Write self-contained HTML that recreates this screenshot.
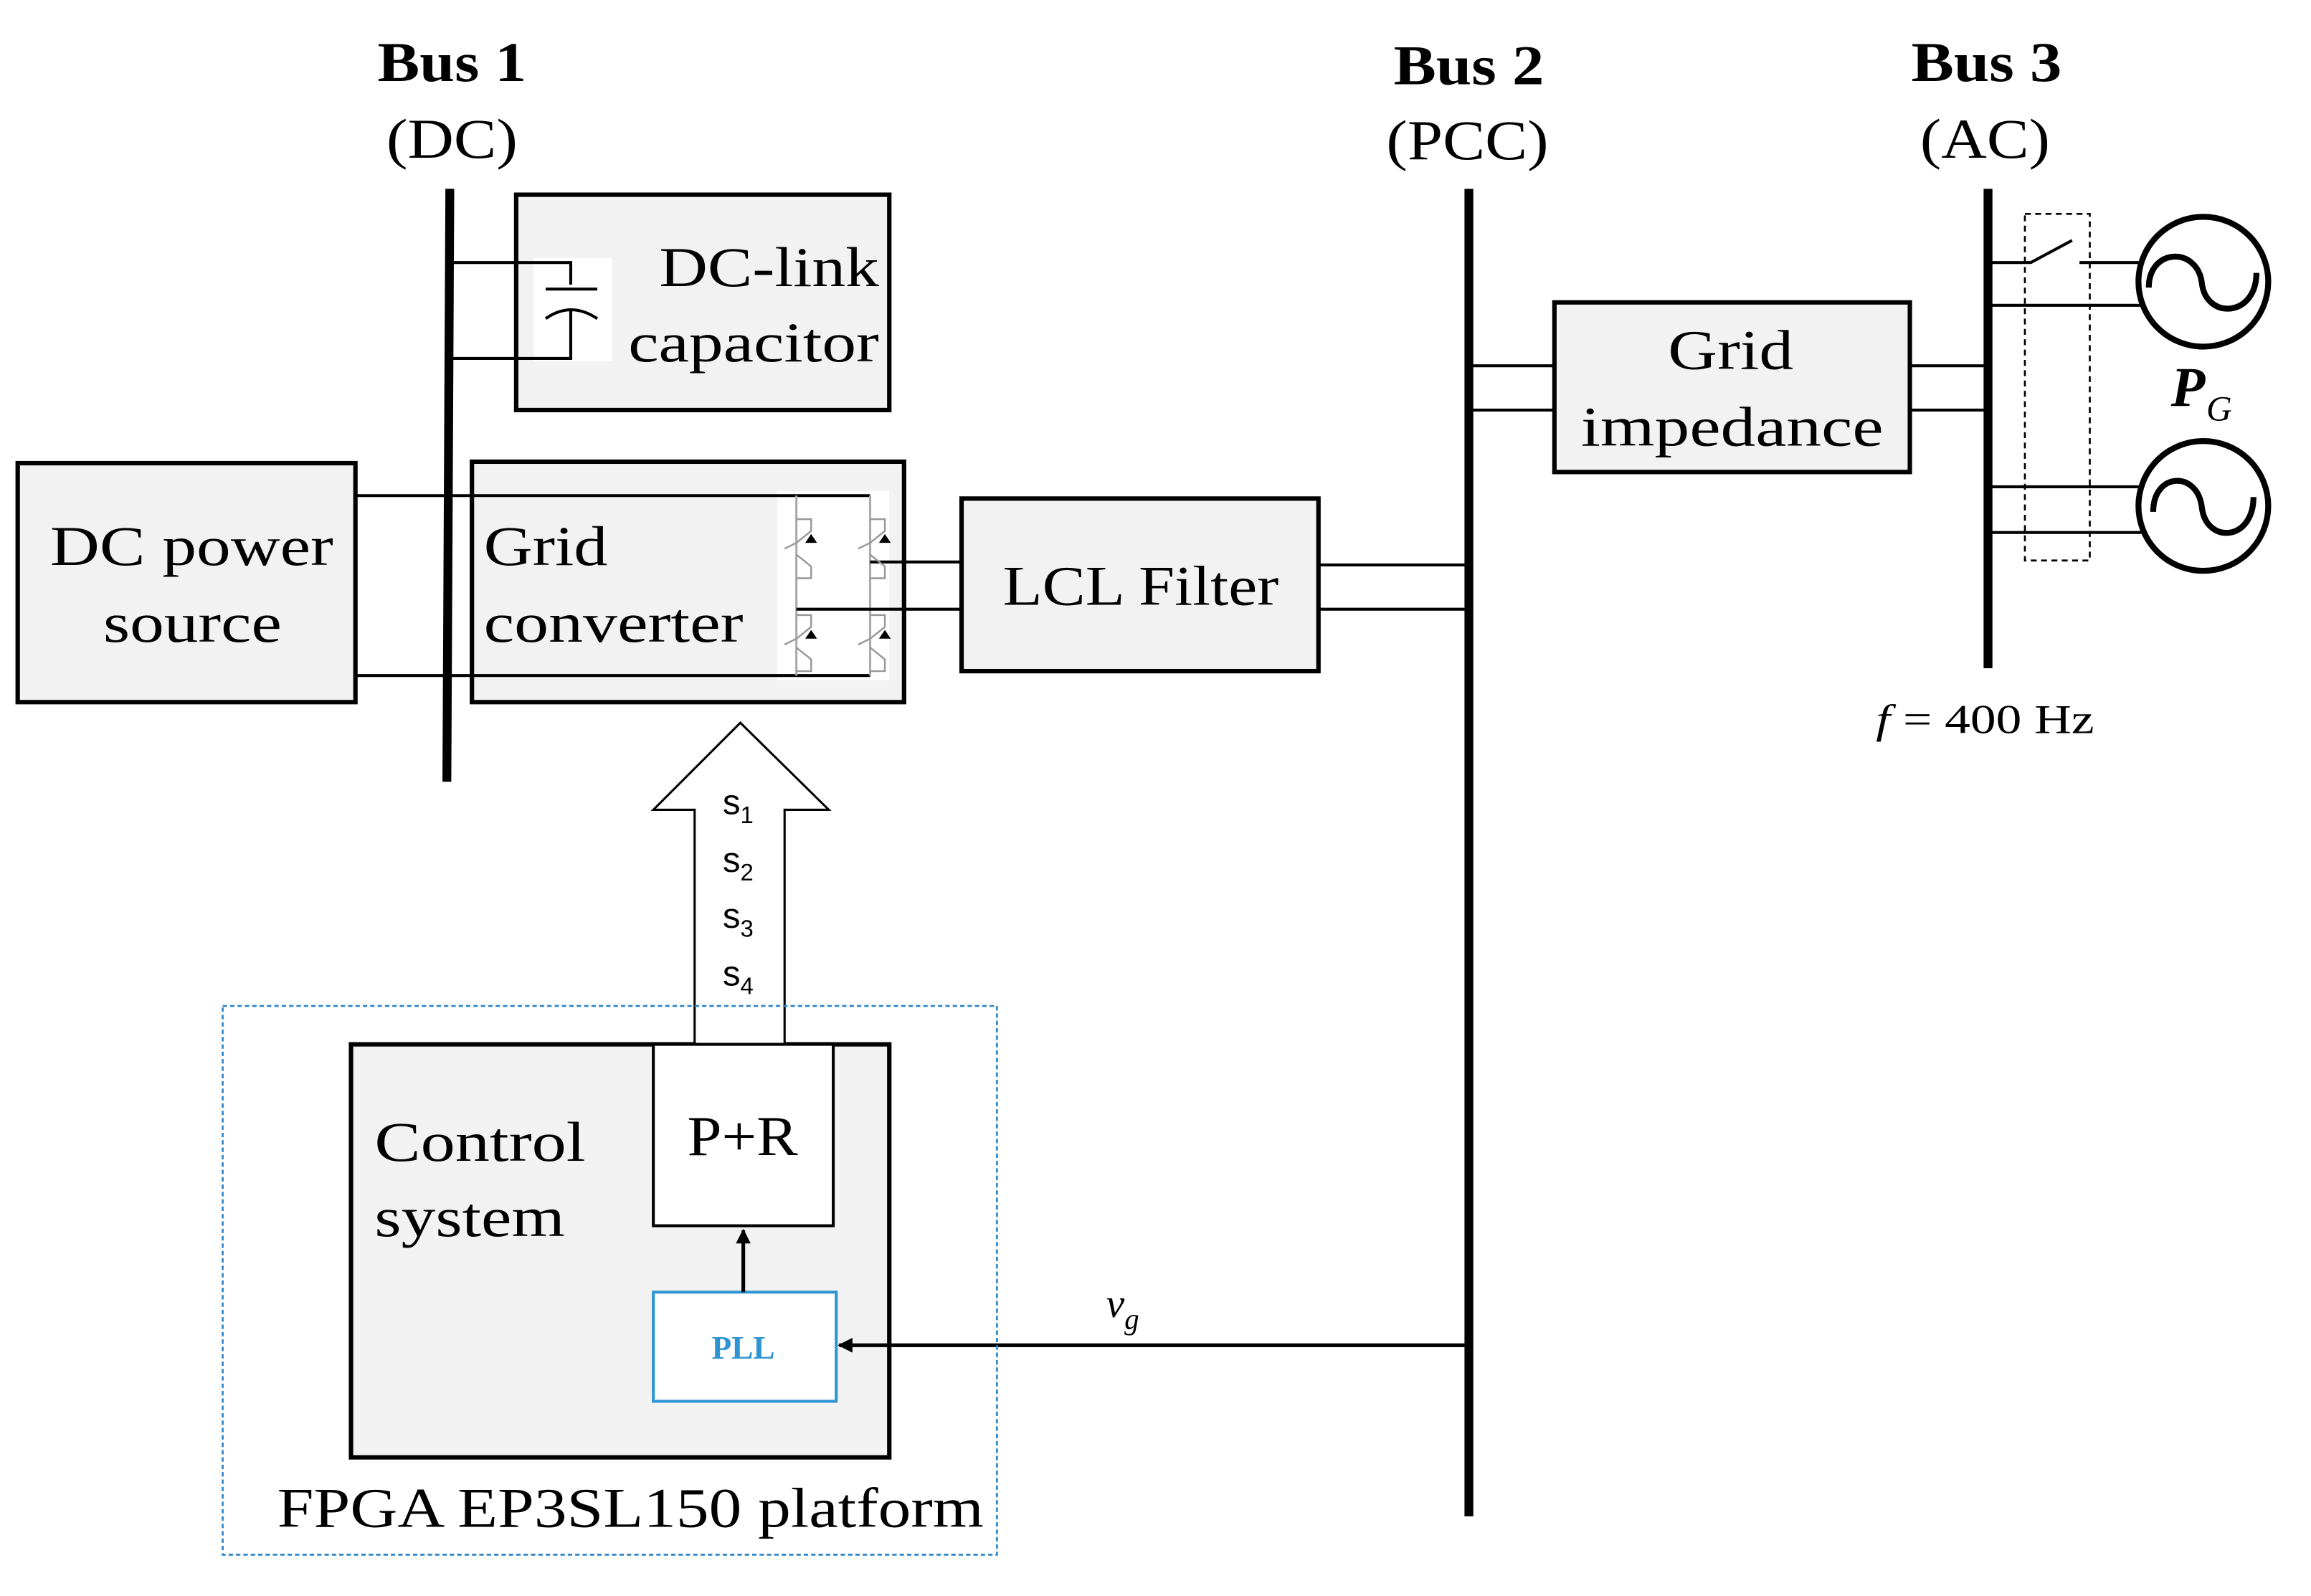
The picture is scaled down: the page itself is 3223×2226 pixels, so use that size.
<!DOCTYPE html>
<html><head><meta charset="utf-8"><style>html,body{margin:0;padding:0;background:#fff}svg{display:block}</style></head>
<body>
<svg width="3223" height="2226" viewBox="0 0 1567 1082" preserveAspectRatio="none" xmlns="http://www.w3.org/2000/svg" font-family="Liberation Serif, serif">
<defs><marker id="ah" markerWidth="10" markerHeight="10" refX="9" refY="5" orient="auto" markerUnits="userSpaceOnUse"><path d="M0,0 L10,5 L0,10 z" fill="#000"/></marker></defs>
<!-- labels -->
<g font-size="38" lengthAdjust="spacingAndGlyphs">
<text x="256" y="55" font-weight="bold" textLength="101" lengthAdjust="spacingAndGlyphs">Bus 1</text><text x="262" y="107" textLength="89" lengthAdjust="spacingAndGlyphs">(DC)</text>
<text x="945" y="57" font-weight="bold" textLength="102" lengthAdjust="spacingAndGlyphs">Bus 2</text><text x="940" y="108" textLength="110" lengthAdjust="spacingAndGlyphs">(PCC)</text>
<text x="1296" y="55" font-weight="bold" textLength="102" lengthAdjust="spacingAndGlyphs">Bus 3</text><text x="1302" y="107" textLength="88" lengthAdjust="spacingAndGlyphs">(AC)</text>
</g>
<!-- boxes -->
<g stroke="#000" stroke-width="3" fill="#f2f2f2">
<rect x="350" y="132" width="253" height="146"/>
<rect x="12" y="314" width="229" height="162"/>
<rect x="320" y="313" width="293" height="163"/>
<rect x="652" y="338" width="242" height="117"/>
<rect x="1054" y="205" width="241" height="115"/>
<rect x="238" y="708" width="365" height="280"/>
</g>
<rect x="362" y="175" width="53" height="70" fill="#fff"/>
<rect x="527" y="333" width="76" height="128" fill="#fff"/>
<!-- wires -->
<g stroke="#000" stroke-width="2" fill="none">
<path d="M305,178 H387 V193 M370,196 H405 M370,216 Q387,204 405,216 M387,209 V243 H305"/>
<path d="M241,336 H590 M241,458 H590"/>
<path d="M540,336 V458 M590,336 V458" stroke="#aaa" stroke-width="1.5"/>
<path d="M590,381 H652 M540,413 H652"/>
<path d="M894,383 H996 M894,413 H996"/>
<path d="M996,248 H1054 M996,278 H1054 M1295,248 H1348 M1295,278 H1348"/>
<path d="M1348,178 H1377 L1405,163 M1410,178 H1452 M1348,207 H1452 M1348,330 H1452 M1348,361 H1452"/>
</g>
<g stroke="#999" stroke-width="1.2" fill="none">
<path d="M540,352 h10 v8 l-10,8 l-8,4 M540,392 h10 v-8 l-10,-8 M590,352 h10 v8 l-10,8 l-8,4 M590,392 h10 v-8 l-10,-8"/>
<path d="M540,417 h10 v8 l-10,8 l-8,4 M540,455 h10 v-8 l-10,-8 M590,417 h10 v8 l-10,8 l-8,4 M590,455 h10 v-8 l-10,-8"/>
</g>
<g fill="#000"><path d="M546,368 l4,-6 l4,6z M596,368 l4,-6 l4,6z M546,433 l4,-6 l4,6z M596,433 l4,-6 l4,6z"/></g>
<rect x="1373" y="145" width="44" height="235" fill="none" stroke="#000" stroke-width="1.3" stroke-dasharray="4,3"/>
<!-- buses -->
<g stroke="#000" stroke-width="6"><line x1="305" y1="128" x2="303" y2="530"/><line x1="996" y1="128" x2="996" y2="1028"/><line x1="1348" y1="128" x2="1348" y2="453"/></g>
<!-- generators -->
<g stroke="#000" stroke-width="4" fill="none">
<circle cx="1494" cy="191" r="44"/><circle cx="1494" cy="343" r="44"/>
<path d="M1457,195 C1457,168 1490,167 1493,192 C1496,217 1530,215 1530,185"/>
<path d="M1460,347 C1460,320 1490,319 1493,344 C1496,369 1528,367 1528,337"/>
</g>
<text x="1472" y="275" font-size="38" font-style="italic" font-weight="bold">P</text><text x="1496" y="285" font-size="24" font-style="italic">G</text>
<text x="1272" y="497" font-size="28" textLength="148" lengthAdjust="spacingAndGlyphs"><tspan font-style="italic">f</tspan> = 400 Hz</text>
<!-- box texts -->
<g font-size="38">
<text x="447" y="194" textLength="149" lengthAdjust="spacingAndGlyphs">DC-link</text><text x="426" y="245" textLength="170" lengthAdjust="spacingAndGlyphs">capacitor</text>
<text x="34" y="383" textLength="192" lengthAdjust="spacingAndGlyphs">DC power</text><text x="70" y="435" textLength="121" lengthAdjust="spacingAndGlyphs">source</text>
<text x="328" y="383" textLength="84" lengthAdjust="spacingAndGlyphs">Grid</text><text x="328" y="435" textLength="176" lengthAdjust="spacingAndGlyphs">converter</text>
<text x="680" y="410" textLength="187" lengthAdjust="spacingAndGlyphs">LCL Filter</text>
<text x="1131" y="250" textLength="85" lengthAdjust="spacingAndGlyphs">Grid</text><text x="1072" y="302" textLength="205" lengthAdjust="spacingAndGlyphs">impedance</text>
<text x="254" y="787" textLength="143" lengthAdjust="spacingAndGlyphs">Control</text><text x="254" y="838" textLength="129" lengthAdjust="spacingAndGlyphs">system</text>
</g>
<!-- arrow -->
<path d="M471,708 V549 H443 L502,490 L562,549 H532 V708" fill="#fff" stroke="#000" stroke-width="1.5"/>
<g font-size="24" font-family="Liberation Sans, sans-serif"><text x="490" y="552">s<tspan font-size="16" dy="6">1</tspan></text><text x="490" y="591">s<tspan font-size="16" dy="6">2</tspan></text><text x="490" y="629">s<tspan font-size="16" dy="6">3</tspan></text><text x="490" y="668">s<tspan font-size="16" dy="6">4</tspan></text></g>
<rect x="443" y="708" width="122" height="123" fill="#fff" stroke="#000" stroke-width="2"/>
<text x="466" y="783" font-size="38" textLength="75" lengthAdjust="spacingAndGlyphs">P+R</text>
<rect x="443" y="876" width="124" height="74" fill="#fff" stroke="#2e95d3" stroke-width="2"/>
<text x="504" y="921" font-size="22" font-weight="bold" fill="#2e95d3" text-anchor="middle">PLL</text>
<line x1="504" y1="876" x2="504" y2="834" stroke="#000" stroke-width="2.5" marker-end="url(#ah)"/>
<line x1="996" y1="912" x2="569" y2="912" stroke="#000" stroke-width="2.5" marker-end="url(#ah)"/>
<text x="750" y="893" font-size="28" font-style="italic">v<tspan font-size="20" dy="8">g</tspan></text>
<rect x="151" y="682" width="525" height="372" fill="none" stroke="#2e85c8" stroke-width="1.3" stroke-dasharray="3,2"/>
<text x="188" y="1035" font-size="38" textLength="479" lengthAdjust="spacingAndGlyphs">FPGA EP3SL150 platform</text>
</svg>
</body></html>
